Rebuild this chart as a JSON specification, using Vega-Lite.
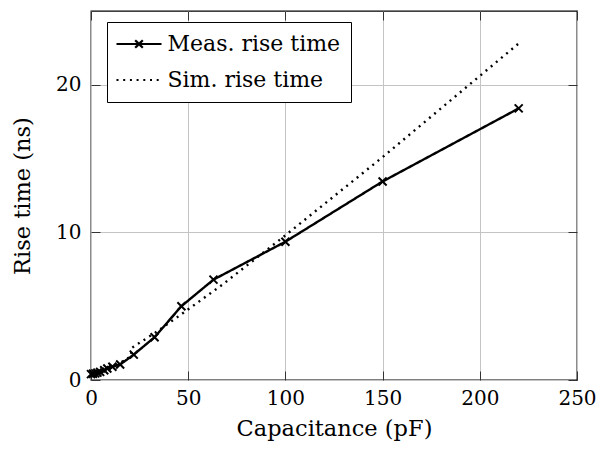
{
  "$schema": "https://vega.github.io/schema/vega-lite/v6.json",
  "width": 486,
  "height": 369,
  "autosize": "none",
  "padding": {"left": 91, "top": 11, "right": 23, "bottom": 70},
  "background": "white",
  "config": {
    "view": {"stroke": "black", "strokeWidth": 1.3},
    "font": "DejaVu Serif",
    "style": {"guide-title": {"font": "DejaVu Serif", "fontWeight": "normal"}, "guide-label": {"font": "DejaVu Serif"}},
    "axis": {
      "labelFont": "DejaVu Serif",
      "titleFont": "DejaVu Serif",
      "labelFontSize": 20,
      "titleFontSize": 22.5,
      "titleFontWeight": "normal",
      "labelColor": "black",
      "titleColor": "black",
      "labelFlush": false,
      "domain": false,
      "tickColor": "#333",
      "tickSize": -9,
      "tickWidth": 1,
      "gridColor": "#c4c4c4",
      "gridWidth": 1
    }
  },
  "data": {
    "values": [
      {"series": "Meas. rise time", "cap": 0, "time": 0.4},
      {"series": "Meas. rise time", "cap": 1, "time": 0.42},
      {"series": "Meas. rise time", "cap": 2.2, "time": 0.45},
      {"series": "Meas. rise time", "cap": 3.3, "time": 0.5},
      {"series": "Meas. rise time", "cap": 4.7, "time": 0.55},
      {"series": "Meas. rise time", "cap": 6.8, "time": 0.66},
      {"series": "Meas. rise time", "cap": 8.4, "time": 0.78},
      {"series": "Meas. rise time", "cap": 11, "time": 0.9},
      {"series": "Meas. rise time", "cap": 15, "time": 1.05},
      {"series": "Meas. rise time", "cap": 22, "time": 1.72},
      {"series": "Meas. rise time", "cap": 32.7, "time": 2.9},
      {"series": "Meas. rise time", "cap": 46.5, "time": 5.0},
      {"series": "Meas. rise time", "cap": 63, "time": 6.8},
      {"series": "Meas. rise time", "cap": 100, "time": 9.37},
      {"series": "Meas. rise time", "cap": 150, "time": 13.45},
      {"series": "Meas. rise time", "cap": 220, "time": 18.4},
      {"series": "Sim. rise time", "cap": 0, "time": 0.3},
      {"series": "Sim. rise time", "cap": 2.2, "time": 0.4},
      {"series": "Sim. rise time", "cap": 4.7, "time": 0.52},
      {"series": "Sim. rise time", "cap": 6.8, "time": 0.63},
      {"series": "Sim. rise time", "cap": 10, "time": 0.82},
      {"series": "Sim. rise time", "cap": 15, "time": 1.15},
      {"series": "Sim. rise time", "cap": 20.5, "time": 1.6},
      {"series": "Sim. rise time", "cap": 21, "time": 2.18},
      {"series": "Sim. rise time", "cap": 33, "time": 3.2},
      {"series": "Sim. rise time", "cap": 47, "time": 4.5},
      {"series": "Sim. rise time", "cap": 68, "time": 6.5},
      {"series": "Sim. rise time", "cap": 100, "time": 9.8},
      {"series": "Sim. rise time", "cap": 150, "time": 15.1},
      {"series": "Sim. rise time", "cap": 220, "time": 22.8}
    ]
  },
  "layer": [
    {
      "mark": {"type": "line", "color": "black", "strokeWidth": 2.4, "clip": true},
      "encoding": {
        "x": {
          "field": "cap", "type": "quantitative",
          "scale": {"domain": [0, 250], "nice": false, "zero": false},
          "axis": {"title": "Capacitance (pF)", "titleFont": "DejaVu Serif", "titleFontWeight": "normal", "values": [0, 50, 100, 150, 200, 250], "grid": true, "labelPadding": 17, "titlePadding": 9}
        },
        "y": {
          "field": "time", "type": "quantitative",
          "scale": {"domain": [0, 25], "nice": false, "zero": false},
          "axis": {"title": "Rise time (ns)", "titleFont": "DejaVu Serif", "titleFontWeight": "normal", "values": [0, 10, 20], "grid": true, "labelPadding": 19, "titlePadding": 21}
        },
        "strokeDash": {
          "field": "series", "type": "nominal",
          "scale": {"domain": ["Meas. rise time", "Sim. rise time"], "range": [[1, 0], [2, 4.7]]},
          "legend": {
            "orient": "none",
            "legendX": 16,
            "legendY": 11,
            "title": null,
            "strokeColor": "black",
            "fillColor": "white",
            "padding": 10.5,
            "symbolSize": 400,
            "symbolOffset": 10,
            "symbolStrokeWidth": 2.2,
            "symbolStrokeColor": "black",
            "labelFontSize": 22,
            "labelFont": "DejaVu Serif",
            "labelColor": "black",
            "labelOffset": 17,
            "labelLimit": 0,
            "rowPadding": 13,
            "encode": {
              "symbols": {
                "update": {
                  "shape": [
                    {"test": "datum.value === 'Meas. rise time'", "value": "M-2.25,0L2.25,0M-0.38,-0.38L0.38,0.38M-0.38,0.38L0.38,-0.38"},
                    {"value": "M-2.25,0L2.25,0"}
                  ]
                }
              }
            }
          }
        }
      }
    },
    {
      "transform": [{"filter": "datum.series === 'Meas. rise time'"}],
      "mark": {"type": "point", "shape": "M-1,-1L1,1M-1,1L1,-1", "size": 64, "filled": false, "color": "black", "strokeWidth": 2, "opacity": 1},
      "encoding": {
        "x": {
          "field": "cap", "type": "quantitative",
          "axis": {"orient": "top", "labels": false, "title": null, "grid": false, "values": [0, 50, 100, 150, 200, 250]}
        },
        "y": {
          "field": "time", "type": "quantitative",
          "axis": {"orient": "right", "labels": false, "title": null, "grid": false, "values": [0, 10, 20]}
        }
      }
    }
  ],
  "resolve": {"axis": {"x": "independent", "y": "independent"}}
}
